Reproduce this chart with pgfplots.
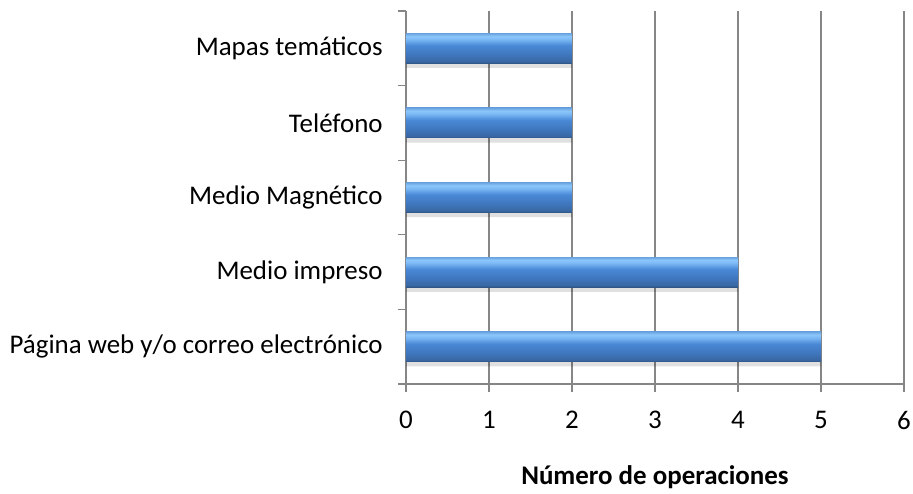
\documentclass[border=0pt]{standalone}
\usepackage{pgfplots}
\pgfplotsset{compat=1.18}
\usepackage{fontspec}
\setmainfont{Carlito}
\definecolor{gridgray}{HTML}{868686}
\pgfdeclareverticalshading{barshade}{100bp}{%
  color(0bp)=(rgb,255:red,46;green,85;blue,133);
  color(25bp)=(rgb,255:red,46;green,85;blue,133);
  color(28bp)=(rgb,255:red,58;green,103;blue,163);
  color(40bp)=(rgb,255:red,63;green,119;blue,190);
  color(55bp)=(rgb,255:red,74;green,137;blue,214);
  color(65bp)=(rgb,255:red,122;green,184;blue,244);
  color(70bp)=(rgb,255:red,140;green,198;blue,250);
  color(75bp)=(rgb,255:red,106;green,164;blue,224);
  color(100bp)=(rgb,255:red,106;green,164;blue,224)}
\pgfplotsset{
  mybar/.style={bar shift=0pt, draw=none, shading=barshade},
  myshadow/.style={bar shift=-3.5pt, fill=black, fill opacity=0.12, draw=none},
}
\begin{document}
\begin{tikzpicture}
\path[use as bounding box] (-304.5pt,-81.75pt) rectangle (380.25pt,288pt);
\begin{axis}[
  at={(0,0)}, anchor=south west,
  scale only axis,
  width=373.5pt, height=279.75pt,
  xmin=0, xmax=6, ymin=-0.5, ymax=4.5,
  axis lines=left,
  axis line style={-, draw=gridgray, line width=0.8pt},
  xtick={0,...,6},
  ytick={-0.5,0.5,1.5,2.5,3.5,4.5},
  yticklabels={},
  extra y ticks={0,...,4},
  extra y tick labels={P\'agina web y/o correo electr\'onico, Medio impreso, Medio Magn\'etico, Tel\'efono, Mapas tem\'aticos},
  extra y tick style={major tick length=0pt, y tick style={draw=none}},
  tick style={draw=gridgray, line width=0.8pt},
  tick align=outside,
  major tick length=6pt,
  xmajorgrids=true,
  grid style={draw=gridgray, line width=0.8pt},
  /pgf/number format/assume math mode=true,
  ticklabel style={font=\fontsize{20.2}{24}\selectfont, text=black},
  yticklabel style={xshift=-14pt},
  xticklabel style={yshift=-11pt},
  xlabel={\textbf{N\'umero de operaciones}},
  xlabel style={font=\fontsize{20.2}{24}\selectfont, yshift=-20pt},
  xbar, bar width=22.5pt,
  clip=false,
]
\addplot[myshadow] coordinates {(5,0) (4,1) (2,2) (2,3) (2,4)};
\addplot[mybar] coordinates {(5,0)};
\addplot[mybar] coordinates {(4,1)};
\addplot[mybar] coordinates {(2,2)};
\addplot[mybar] coordinates {(2,3)};
\addplot[mybar] coordinates {(2,4)};
\end{axis}
\end{tikzpicture}
\end{document}
